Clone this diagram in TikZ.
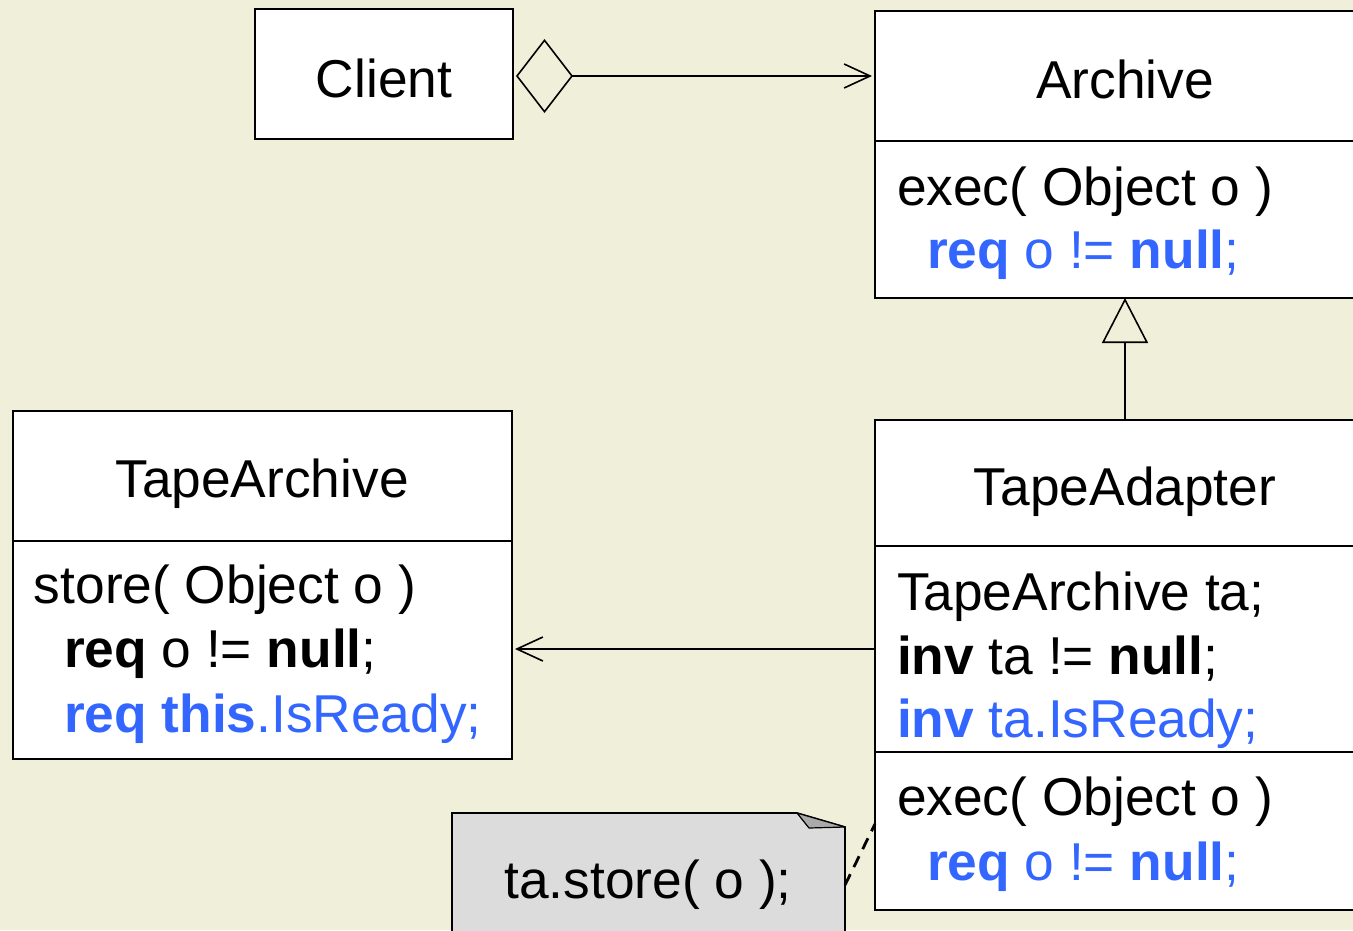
\documentclass[tikz,border=0pt]{standalone}
\usepackage{fontspec}
\setmainfont{Liberation Sans}
\usetikzlibrary{arrows.meta}
\definecolor{paper}{RGB}{240,239,218}
\definecolor{specblue}{RGB}{51,102,255}
\definecolor{notegray}{RGB}{220,220,220}
\definecolor{foldgray}{RGB}{170,170,170}
\tikzset{
  every node/.style={font=\fontsize{53.3}{65}\selectfont, inner sep=0pt, outer sep=0pt},
  umlbox/.style={draw, fill=white, line width=1.6pt, anchor=north west},
  line/.style={line width=1.6pt},
  head/.style={anchor=base},
  member/.style={anchor=base west},
  navtip/.style={-{Straight Barb[length=26pt, width=24pt, line width=1.6pt]}},
}
\begin{document}
\begin{tikzpicture}[x=1pt, y=-1pt]
  % canvas
  \useasboundingbox (0,0) rectangle (1353,930);
  \clip (0,0) rectangle (1353,930);
  \fill[paper] (0,0) rectangle (1353,930);

  % Client
  \node[umlbox, minimum width=258pt, minimum height=130pt] (client) at (255,9) {};
  \node[head] (clientname) at (384,97) {Client};

  % Archive
  \node[umlbox, minimum width=500pt, minimum height=130pt] (archivehead) at (875,11) {};
  \node[umlbox, minimum width=500pt, minimum height=157pt] (archivebody) at (875,141) {};
  \node[head] (archivename) at (1125,98) {Archive};
  \node[member] (archiveop) at (897,205) {exec( Object o )};
  \node[member] (archivepre) at (927,268) {\color{specblue}\textbf{req} o != \textbf{null};};

  % TapeArchive
  \node[umlbox, minimum width=499pt, minimum height=130pt] (tapehead) at (13,411) {};
  \node[umlbox, minimum width=499pt, minimum height=218pt] (tapebody) at (13,541) {};
  \node[head] (tapename) at (262,497) {TapeArchive};
  \node[member] (tapeop) at (34,603) {store( Object o )};
  \node[member] (tapepre) at (64,667) {\textbf{req} o != \textbf{null};};
  \node[member] (tapeready) at (64,732) {\color{specblue}\textbf{req this}.IsReady;};

  % TapeAdapter
  \node[umlbox, minimum width=500pt, minimum height=126pt] (adapterhead) at (875,420) {};
  \node[umlbox, minimum width=500pt, minimum height=206pt] (adapterattr) at (875,546) {};
  \node[umlbox, minimum width=500pt, minimum height=158pt] (adapterops) at (875,752) {};
  \node[head] (adaptername) at (1125,505) {TapeAdapter};
  \node[member] (adapterfield) at (897,610) {TapeArchive ta;};
  \node[member] (adapterinv) at (897,674) {\textbf{inv} ta != \textbf{null};};
  \node[member] (adapterready) at (897,737) {\color{specblue}\textbf{inv} ta.IsReady;};
  \node[member] (adapterop) at (897,815) {exec( Object o )};
  \node[member] (adapterpre) at (927,880) {\color{specblue}\textbf{req} o != \textbf{null};};

  % note with folded corner
  \filldraw[line width=1.6pt, fill=notegray]
    (452,813) -- (797,813) -- (845,827) -- (845,940) -- (452,940) -- cycle;
  \filldraw[line width=1.2pt, fill=foldgray, line join=round]
    (797,813) -- (845,827) -- (809,828) -- cycle;
  \node[head] (notetext) at (648,898) {ta.store( o );};
  \coordinate (noteport) at (845,885);
  \coordinate (adapterport) at (875,824);

  % aggregation Client -> Archive
  \draw[line, {Diamond[open, length=57pt, width=74pt, line width=1.6pt]}-{Straight Barb[length=26pt, width=24pt, line width=1.6pt]}, shorten <=3pt, shorten >=3pt]
    (client.east |- 0,76) -- (archivehead.west |- 0,76);

  % generalization TapeAdapter -> Archive
  \draw[line, -{Triangle[open, length=45pt, width=46pt, line width=1.6pt]}]
    (adapterhead.north -| 1125,0) -- (archivebody.south -| 1125,0);

  % association TapeAdapter -> TapeArchive
  \draw[line, navtip, shorten >=3pt] (adapterattr.west |- 0,649) -- (tapebody.east |- 0,649);

  % note attachment
  \draw[line width=2.8pt, dash pattern=on 12pt off 8pt] (noteport) -- (adapterport);
\end{tikzpicture}
\end{document}
